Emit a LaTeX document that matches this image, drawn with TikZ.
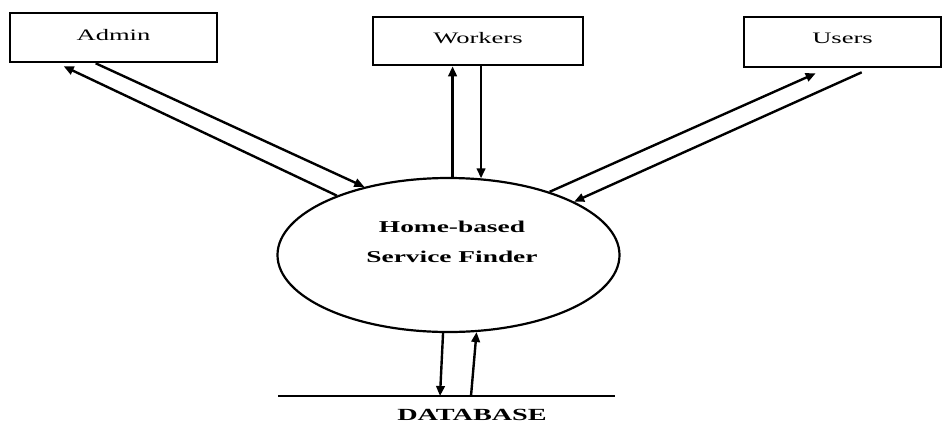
\documentclass[tikz,border=0pt]{standalone}
\usepackage{fontspec}
\setmainfont{Liberation Serif}
% Times-like face, set wide
\newfontfamily\widefont[FakeStretch=1.66]{Liberation Serif}
\usetikzlibrary{shapes.geometric,arrows.meta,calc}
\begin{document}
\begin{tikzpicture}[x=1pt,y=-1pt,
  entity/.style={draw,line width=2.6pt,rectangle,inner sep=0pt,
    font=\widefont\fontsize{16}{19}\selectfont},
  flow/.style={line width=2.4pt,-{Triangle[length=10pt,width=8.5pt]}},
  bigtext/.style={font=\widefont\bfseries\fontsize{16.5}{30}\selectfont,align=center,inner sep=0pt}]
\useasboundingbox (0,0) rectangle (943,432);

% external entities
\node[entity,minimum width=207pt,minimum height=49pt] (admin)   at (113.5,37.5) {\raisebox{6pt}{Admin}};
\node[entity,minimum width=210pt,minimum height=48pt] (workers) at (478,41)    {\raisebox{7pt}{Workers}};
\node[entity,minimum width=197pt,minimum height=50pt] (users)   at (842.5,42)  {\raisebox{7pt}{Users}};

% central process
\node[draw,ellipse,line width=2.2pt,minimum width=342pt,minimum height=154pt,inner sep=0pt] (hub) at (448.5,255) {};
\node[bigtext] (hubtext) at (452,242) {Home-based\\Service Finder};

% data store
\coordinate (dbL) at (278,396);
\coordinate (dbR) at (615,396);
\draw[line width=2.2pt] (dbL) -- (dbR);
\node[bigtext,font=\widefont\bfseries\fontsize{17}{20}\selectfont] (dblabel) at (472,415) {DATABASE};
\coordinate (dbin)  at (440,396);
\coordinate (dbout) at (471,396);

% flows: admin
\draw[flow] (hub.152.8) -- ($(admin.south west)+(55,3)$);
\draw[flow] ($(admin.south west)+(87,0)$) -- (hub.141.3);
% flows: workers
\draw[flow] (hub.87) -- (hub.87 |- workers.south);
\draw[flow] (workers.south -| hub.67.7) -- (hub.67.7);
% flows: users
\draw[flow] (hub.32) -- ($(users.south west)+(73,5)$);
\draw[flow] ($(users.south west)+(119,4)$) -- (hub.23.9);
% flows: database
\draw[flow] (hub.-94) -- (dbin);
\draw[flow] (dbout) -- (hub.-70);
\end{tikzpicture}
\end{document}
